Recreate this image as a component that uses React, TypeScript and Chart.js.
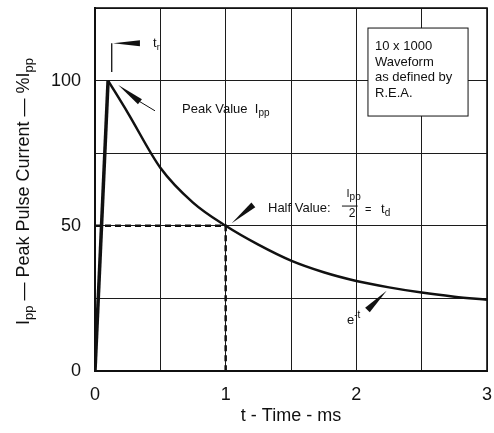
import React, { useEffect, useRef } from 'react';
import { Chart, registerables } from 'chart.js';

Chart.register(...registerables);

// ---- data ----
const riseTime = [0, 0.1];
const riseValue = [0, 100];
const decayTime = [0.1, 0.25, 0.5, 0.75, 1, 1.25, 1.5, 1.75, 2, 2.25, 2.5, 2.75, 3];
const decayValue = [100, 89, 70, 58, 50, 43.5, 38, 34, 31, 28.8, 27, 25.6, 24.5];
const halfTime = [0, 1, 1];
const halfValue = [50, 50, 0];
const xTickLabels = [0, 1, 2, 3];
const yTickLabels = [0, 50, 100];

const FONT = '"Liberation Sans", Arial, Helvetica, sans-serif';
const INK = '#111';

type Run = [string, number, number];

function drawRuns(ctx: CanvasRenderingContext2D, x: number, y: number, parts: Run[]) {
  let cx = x;
  for (const [text, size, dy] of parts) {
    ctx.font = `${size}px ${FONT}`;
    ctx.fillText(text, cx, y + dy);
    cx += ctx.measureText(text).width;
  }
}

function runsWidth(ctx: CanvasRenderingContext2D, parts: Run[]) {
  let w = 0;
  for (const [text, size] of parts) {
    ctx.font = `${size}px ${FONT}`;
    w += ctx.measureText(text).width;
  }
  return w;
}

function wedge(ctx: CanvasRenderingContext2D, x1: number, y1: number, x2: number, y2: number, w: number) {
  const dx = x2 - x1;
  const dy = y2 - y1;
  const len = Math.hypot(dx, dy) || 1;
  const nx = (-dy / len) * (w / 2);
  const ny = (dx / len) * (w / 2);
  ctx.beginPath();
  ctx.moveTo(x1, y1);
  ctx.lineTo(x2 + nx, y2 + ny);
  ctx.lineTo(x2 - nx, y2 - ny);
  ctx.closePath();
  ctx.fill();
}

const annotationPlugin = {
  id: 'waveAnnotations',
  beforeDatasetsDraw(chart: any) {
    const { ctx, chartArea: a } = chart;
    ctx.save();
    ctx.strokeStyle = INK;
    ctx.lineWidth = 1.6;
    ctx.strokeRect(a.left, a.top, a.right - a.left, a.bottom - a.top);
    ctx.restore();
  },
  afterDatasetsDraw(chart: any) {
    const { ctx } = chart;
    const xs = chart.scales.x;
    const ys = chart.scales.y;
    const px = (t: number) => xs.getPixelForValue(t);
    const py = (v: number) => ys.getPixelForValue(v);
    ctx.save();
    ctx.fillStyle = INK;
    ctx.strokeStyle = INK;
    ctx.textBaseline = 'alphabetic';
    ctx.textAlign = 'left';

    // t_r marker
    ctx.lineWidth = 1.3;
    ctx.beginPath();
    ctx.moveTo(px(0.128), py(112.9));
    ctx.lineTo(px(0.128), py(103));
    ctx.stroke();
    wedge(ctx, px(0.138), py(112.9), px(0.344), py(112.9), 6);
    drawRuns(ctx, px(0.444), py(111.6), [['t', 13, 0], ['r', 9, 3]]);

    // Peak value arrow + label
    wedge(ctx, px(0.178), py(98.5), px(0.344), py(92.7), 6.5);
    ctx.lineWidth = 1;
    ctx.beginPath();
    ctx.moveTo(px(0.33), py(93.1));
    ctx.lineTo(px(0.459), py(89.6));
    ctx.stroke();
    drawRuns(ctx, px(0.666), py(88.8), [['Peak Value  I', 13, 0], ['pp', 10, 3]]);

    // Box
    const bx1 = px(2.089), bx2 = px(2.855), by1 = py(118.1), by2 = py(87.8);
    ctx.fillStyle = '#fff';
    ctx.fillRect(bx1, by1, bx2 - bx1, by2 - by1);
    ctx.lineWidth = 1;
    ctx.strokeRect(bx1, by1, bx2 - bx1, by2 - by1);
    ctx.fillStyle = INK;
    ctx.font = `13px ${FONT}`;
    const boxLines = ['10 x 1000', 'Waveform', 'as defined by', 'R.E.A.'];
    const boxBase = [110.5, 105.0, 99.7, 94.4];
    boxLines.forEach((s, i) => ctx.fillText(s, px(2.143), py(boxBase[i])));

    // Half value
    wedge(ctx, px(1.046), py(50.9), px(1.212), py(57.2), 6);
    drawRuns(ctx, px(1.324), py(54.8), [['Half Value:', 13, 0]]);
    drawRuns(ctx, px(1.925), py(59.9), [['I', 11, 0], ['pp', 10, 3]]);
    ctx.lineWidth = 1;
    ctx.beginPath();
    ctx.moveTo(px(1.89), py(56.8));
    ctx.lineTo(px(2.01), py(56.8));
    ctx.stroke();
    ctx.font = `12px ${FONT}`;
    ctx.textAlign = 'center';
    ctx.fillText('2', px(1.967), py(53.0));
    ctx.textAlign = 'left';
    drawRuns(ctx, px(2.066), py(54.4), [['=', 11, 0]]);
    drawRuns(ctx, px(2.189), py(54.4), [['t', 13, 0], ['d', 10, 3]]);

    // e^-t arrow + label
    wedge(ctx, px(2.232), py(27.65), px(2.085), py(21.0), 6.5);
    drawRuns(ctx, px(1.928), py(16.2), [['e', 13, 0], ['-t', 10, -6]]);

    // Y axis title with subscripts (rotated)
    const yParts: Run[] = [
      ['I', 18, 0], ['pp', 13, 4], [' \u2014 Peak Pulse Current \u2014 %', 18, 0], ['I', 18, 0], ['pp', 13, 4],
    ];
    const w = runsWidth(ctx, yParts);
    const mid = (chart.chartArea.top + chart.chartArea.bottom) / 2 + 2;
    ctx.translate(29, mid + w / 2);
    ctx.rotate(-Math.PI / 2);
    drawRuns(ctx, 0, 0, yParts);
    ctx.restore();
  },
};

export default function App() {
  const ref = useRef<HTMLCanvasElement | null>(null);

  useEffect(() => {
    if (!ref.current) return;
    const toXY = (xsArr: number[], vsArr: number[]) => xsArr.map((x, i) => ({ x, y: vsArr[i] }));
    const chart = new Chart(ref.current, {
      type: 'line',
      data: {
        datasets: [
          {
            data: toXY(riseTime, riseValue),
            borderColor: INK,
            borderWidth: 3.5,
            pointRadius: 0,
            tension: 0,
          },
          {
            data: toXY(decayTime, decayValue),
            borderColor: INK,
            borderWidth: 2.5,
            pointRadius: 0,
            cubicInterpolationMode: 'monotone',
          },
          {
            data: toXY(halfTime, halfValue),
            borderColor: INK,
            borderWidth: 2.5,
            borderDash: [6, 4],
            pointRadius: 0,
            tension: 0,
          },
        ],
      },
      options: {
        responsive: false,
        animation: false,
        events: [],
        layout: { padding: { top: 8, right: 7, left: 0, bottom: 0 } },
        plugins: { legend: { display: false }, tooltip: { enabled: false } },
        scales: {
          x: {
            type: 'linear',
            min: 0,
            max: 3,
            afterFit: (s: any) => {
              s.height = 62;
              s.paddingLeft = 0;
              s.paddingRight = 0;
            },
            grid: { color: '#1c1c1c', lineWidth: 1, drawTicks: false },
            border: { display: true, color: INK, width: 2 },
            ticks: {
              stepSize: 0.5,
              padding: 13,
              color: INK,
              font: { family: FONT, size: 18 },
              autoSkip: false,
              maxRotation: 0,
              callback: (v: any) => (xTickLabels.includes(Number(v)) ? String(v) : ''),
            },
            title: {
              display: true,
              text: 't - Time - ms',
              color: INK,
              font: { family: FONT, size: 18 },
              padding: { top: 0, bottom: 6 },
            },
          },
          y: {
            type: 'linear',
            min: 0,
            max: 125,
            afterFit: (s: any) => {
              s.width = 95;
              s.paddingTop = 0;
              s.paddingBottom = 0;
            },
            grid: { color: '#1c1c1c', lineWidth: 1, drawTicks: false },
            border: { display: true, color: INK, width: 2 },
            ticks: {
              stepSize: 25,
              padding: 14,
              color: INK,
              font: { family: FONT, size: 18 },
              autoSkip: false,
              callback: (v: any) => (yTickLabels.includes(Number(v)) ? String(v) : ''),
            },
          },
        },
      },
      plugins: [annotationPlugin],
    } as any);
    return () => chart.destroy();
  }, []);

  return (
    <div style={{ position: 'fixed', left: 0, top: 0, width: 494, height: 433, background: '#fff' }}>
      <canvas ref={ref} width={494} height={433} style={{ display: 'block' }} />
    </div>
  );
}
